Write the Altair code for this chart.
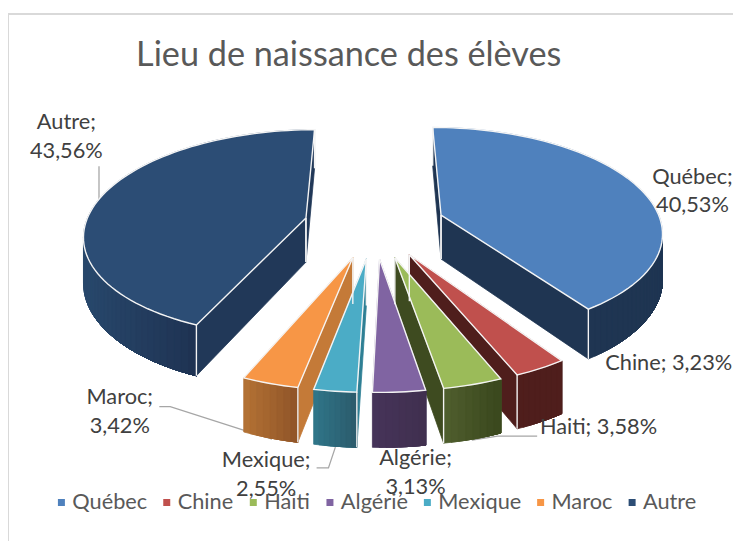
import math
import altair as alt
import pandas as pd

categories = ["Québec", "Chine", "Haiti", "Algérie", "Mexique", "Maroc", "Autre"]
shares = [40.53, 3.23, 3.58, 3.13, 2.55, 3.42, 43.56]
share_labels = ["40,53%", "3,23%", "3,58%", "3,13%", "2,55%", "3,42%", "43,56%"]
top_colors = ["#4F81BD", "#C0504D", "#9BBB59", "#8064A2", "#4BACC6", "#F79646", "#2C4D75"]
wall_left = ["#1F3552", "#4F1E1C", "#4D5C2C", "#453358", "#2F7386", "#B06F33", "#28486C"]
wall_right = ["#1F3552", "#4F1E1C", "#3C4A1F", "#413050", "#2C5E6F", "#94582A", "#1F3454"]
cut_colors = ["#1F3552", "#4F1E1C", "#3E4B20", "#3E4B20", "#2E7F94", "#C47A38", "#213858"]

# projection of the tilted pie
CX, CY, A, B, K, EXPLODE, DEPTH = 378.5, 224.0, 223.0, 104.0, 0.145, 0.32, 45.0


def project(X, Y, low=False):
    w = 1 + K * Y
    return CX + A * X / w, CY + (-B * Y + (DEPTH if low else 0)) / w


def lerp_hex(c1, c2, t):
    a = [int(c1[i:i + 2], 16) for i in (1, 3, 5)]
    b = [int(c2[i:i + 2], 16) for i in (1, 3, 5)]
    return "#" + "".join(f"{round(x + (y - x) * t):02x}" for x, y in zip(a, b))


def visible(p, q, c):
    dx, dy = q[0] - p[0], q[1] - p[1]
    return dx * (dx * (c[1] - p[1]) - dy * (c[0] - p[0])) < 0


faces, edges = [], []
faces_index, edges_index = [], []


def add_face(points, color):
    fid = len(faces_index)
    faces_index.append(fid)
    closed = points + [points[0]]
    for i, (x, y) in enumerate(closed):
        faces.append({"face": fid, "i": i, "x": x, "y": y, "c": color})


def add_edge(points):
    eid = len(edges_index)
    edges_index.append(eid)
    for i, (x, y) in enumerate(points):
        edges.append({"edge": eid, "i": i, "x": x, "y": y})


total = sum(shares)
starts = []
acc = 0.0
for s in shares:
    starts.append(acc)
    acc += s

for idx in [6, 0, 1, 5, 2, 4, 3]:
    t0 = 2 * math.pi * starts[idx] / total
    t1 = 2 * math.pi * (starts[idx] + shares[idx]) / total
    bis = (t0 + t1) / 2
    ox, oy = EXPLODE * math.sin(bis), EXPLODE * math.cos(bis)
    n = max(8, int((t1 - t0) / math.radians(2)))
    thetas = [t0 + (t1 - t0) * j / n for j in range(n + 1)]
    rim = [(ox + math.sin(t), oy + math.cos(t)) for t in thetas]
    apex = (ox, oy)
    top = [project(*apex)] + [project(*p) for p in rim]
    low = [project(*apex, low=True)] + [project(*p, low=True) for p in rim]
    c = (sum(p[0] for p in top) / len(top), sum(p[1] for p in top) / len(top))
    # radial cut faces
    for r in (1, len(top) - 1):
        if visible(top[0], top[r], c):
            add_face([top[0], top[r], low[r], low[0]], cut_colors[idx])
            add_edge([top[r], low[r]])
            add_edge([top[0], low[0]])
    # outer wall: overlapping shaded strips so that no seam shows
    vis = [j for j in range(1, len(top) - 1) if visible(top[j], top[j + 1], c)]
    if vis:
        lo = min(top[j][0] for j in vis)
        hi = max(top[j + 1][0] for j in vis)
        order_vis = sorted(vis, key=lambda j: top[j][0])
        for j in order_vis:
            u = ((top[j][0] + top[j + 1][0]) / 2 - lo) / max(hi - lo, 1)
            # each strip reaches over to the right end of the wall; the next one paints over it
            run = list(range(j, vis[-1] + 2)) if top[vis[-1] + 1][0] >= top[j][0] else list(range(vis[0], j + 2))
            add_face([top[m] for m in run] + [low[m] for m in reversed(run)],
                     lerp_hex(wall_left[idx], wall_right[idx], u))
    add_face(top, top_colors[idx])
    add_edge(top + [top[0]])

faces_df = pd.DataFrame(faces)
edges_df = pd.DataFrame(edges)

x_scale = alt.Scale(domain=[8, 741], range=[0, 733], nice=False, zero=False)
y_scale = alt.Scale(domain=[544, 8], range=[536, 0], nice=False, zero=False)
X = lambda f="x": alt.X(f"{f}:Q", scale=x_scale, axis=None)
Y = lambda f="y": alt.Y(f"{f}:Q", scale=y_scale, axis=None)

legend_layer = alt.Chart(pd.DataFrame({
    "cat": categories, "x": [200] * 7, "y": [220] * 7,
})).mark_square(size=1).encode(
    x=X(), y=Y(),
    color=alt.Color("cat:N", scale=alt.Scale(domain=categories, range=top_colors), sort=categories,
                    legend=alt.Legend(orient="none", legendX=43, legendY=486, direction="horizontal",
                                      columns=7, title=None, symbolType="square", symbolSize=50,
                                      symbolOpacity=1, labelFontSize=22, labelFont="Lato",
                                      labelColor="#595959", labelOffset=0, columnPadding=8.5,
                                      symbolStrokeWidth=0, labelLimit=200)),
)

face_layer = alt.Chart(faces_df).mark_line(strokeWidth=0.8, interpolate="linear").encode(
    x=X(), y=Y(), detail="face:N", order="i:Q",
    fill=alt.Fill("c:N", scale=None), stroke=alt.Stroke("c:N", scale=None),
)

edge_layer = alt.Chart(edges_df).mark_line(color="#F4F4F4", strokeWidth=1.4).encode(
    x=X(), y=Y(), detail="edge:N", order="i:Q",
)

# frame of the chart area
frame = alt.Chart(pd.DataFrame({"x": [8, 8, 741], "y": [544, 11, 11], "i": [0, 1, 2]})).mark_line(
    color="#D9D9D9", strokeWidth=2, clip=False
).encode(x=X(), y=Y(), order="i:Q")

# data labels: position of the first line of each label
label_anchor = {
    "Québec": (700, 175.5), "Chine": (676, 364), "Haiti": (605, 429), "Algérie": (420, 460.5),
    "Mexique": (269, 462.5), "Maroc": (121, 398.5), "Autre": (67, 120.5),
}
two_lines = {"Québec", "Algérie", "Mexique", "Maroc", "Autre"}
labels_df = pd.DataFrame([
    {"x": label_anchor[c][0], "y": label_anchor[c][1],
     "t": f"{c};\n{p}" if c in two_lines else f"{c}; {p}"}
    for c, p in zip(categories, share_labels)
])
label_layer = alt.Chart(labels_df).mark_text(
    font="Lato", fontSize=22, color="#404040", lineBreak="\n", lineHeight=29, align="center", baseline="middle"
).encode(x=X(), y=Y(), text="t:N")

# leader lines
leaders = pd.DataFrame(
    [{"k": "Autre", "i": i, "x": x, "y": y} for i, (x, y) in enumerate([(100, 165), (100, 201)])]
    + [{"k": "Maroc", "i": i, "x": x, "y": y} for i, (x, y) in enumerate([(161, 408), (172, 408), (250, 433), (275, 441)])]
    + [{"k": "Mexique", "i": i, "x": x, "y": y} for i, (x, y) in enumerate([(320, 470), (332, 470), (339, 449)])]
    + [{"k": "Haiti", "i": i, "x": x, "y": y} for i, (x, y) in enumerate([(543, 438), (503, 438), (477, 442)])]
)
leader_layer = alt.Chart(leaders).mark_line(color="#A6A6A6", strokeWidth=1.3).encode(
    x=X(), y=Y(), detail="k:N", order="i:Q",
)

chart = alt.layer(frame, legend_layer, leader_layer, face_layer, edge_layer, label_layer).properties(
    width=733, height=536, padding=0,
    autosize=alt.AutoSizeParams(type="none"),
    title=alt.TitleParams(
        "Lieu de naissance des élèves", anchor="start", dx=133.5, offset=-64, orient="top",
        font="Lato", fontSize=34.6, fontWeight="normal", color="#595959", align="left",
    ),
).configure_view(stroke=None)

chart.save("out.html", embed_options={"renderer": "svg", "actions": False})
